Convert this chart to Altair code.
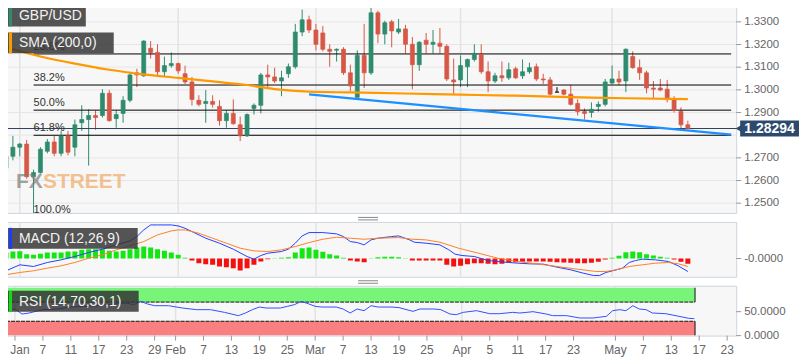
import altair as alt
import pandas as pd

FONT = "Liberation Sans"

# ---------------- data ----------------
candle_idx = list(range(-2, 98))  # trading-day index, 0 = Jan 1 2019
candle_open = [
    1.2654, 1.2707, 1.2747, 1.2761, 1.2617, 1.2635, 1.2729, 1.2770, 1.2720, 1.2797,
    1.2747, 1.2855, 1.2869, 1.2887, 1.2887, 1.2985, 1.2873, 1.2896, 1.2954, 1.3075,
    1.3062, 1.3183, 1.3165, 1.3080, 1.3107, 1.3116, 1.3071, 1.3035, 1.2954, 1.2940,
    1.2949, 1.2927, 1.2864, 1.2896, 1.2846, 1.2797, 1.2918, 1.2932, 1.3066, 1.3057,
    1.3039, 1.3071, 1.3102, 1.3255, 1.3309, 1.3264, 1.3251, 1.3179, 1.3175, 1.3179,
    1.3075, 1.2967, 1.3152, 1.3075, 1.3340, 1.3246, 1.3300, 1.3255, 1.3269, 1.3201,
    1.3111, 1.3219, 1.3201, 1.3206, 1.3192, 1.3044, 1.3044, 1.3102, 1.3134, 1.3156,
    1.3080, 1.3039, 1.3062, 1.3053, 1.3093, 1.3062, 1.3080, 1.3102, 1.3048, 1.3044,
    1.2990, 1.2999, 1.2981, 1.2940, 1.2904, 1.2900, 1.2927, 1.2936, 1.3030, 1.3048,
    1.3039, 1.3147, 1.3098, 1.3075, 1.3008, 1.3008, 1.3003, 1.2958, 1.2905, 1.2846,
]
candle_high = [
    1.2711, 1.2797, 1.2765, 1.2779, 1.2648, 1.2747, 1.2783, 1.2797, 1.2819, 1.2819,
    1.2869, 1.2932, 1.2914, 1.2909, 1.3003, 1.2999, 1.2909, 1.2972, 1.3080, 1.3093,
    1.3219, 1.3215, 1.3201, 1.3147, 1.3165, 1.3120, 1.3107, 1.3057, 1.2976, 1.2999,
    1.2976, 1.2954, 1.2909, 1.2958, 1.2882, 1.2896, 1.2940, 1.3075, 1.3111, 1.3098,
    1.3084, 1.3116, 1.3291, 1.3354, 1.3327, 1.3291, 1.3282, 1.3201, 1.3183, 1.3188,
    1.3111, 1.3174, 1.3291, 1.3381, 1.3349, 1.3305, 1.3309, 1.3313, 1.3287, 1.3233,
    1.3215, 1.3251, 1.3264, 1.3273, 1.3201, 1.3138, 1.3152, 1.3138, 1.3201, 1.3201,
    1.3125, 1.3075, 1.3125, 1.3120, 1.3102, 1.3134, 1.3120, 1.3116, 1.3071, 1.3057,
    1.3012, 1.3003, 1.3021, 1.2958, 1.2918, 1.2945, 1.2949, 1.3048, 1.3107, 1.3084,
    1.3183, 1.3170, 1.3134, 1.3084, 1.3039, 1.3048, 1.3044, 1.2972, 1.2923, 1.2864,
]
candle_low = [
    1.2639, 1.2689, 1.2707, 1.2608, 1.2442, 1.2630, 1.2720, 1.2707, 1.2707, 1.2711,
    1.2707, 1.2819, 1.2666, 1.2824, 1.2878, 1.2860, 1.2833, 1.2855, 1.2945, 1.3012,
    1.3057, 1.3138, 1.3057, 1.3057, 1.3098, 1.3071, 1.3026, 1.2931, 1.2927, 1.2855,
    1.2922, 1.2842, 1.2833, 1.2846, 1.2774, 1.2792, 1.2891, 1.2896, 1.3012, 1.3030,
    1.2972, 1.3053, 1.3093, 1.3237, 1.3251, 1.3174, 1.3170, 1.3102, 1.3125, 1.3066,
    1.2994, 1.2958, 1.3008, 1.3066, 1.3206, 1.3201, 1.3188, 1.3246, 1.3161, 1.3003,
    1.3084, 1.3161, 1.3161, 1.3161, 1.3039, 1.2981, 1.3012, 1.3012, 1.3125, 1.3071,
    1.2990, 1.3030, 1.3035, 1.3044, 1.3048, 1.3048, 1.3071, 1.3039, 1.3026, 1.2976,
    1.2990, 1.2976, 1.2931, 1.2887, 1.2869, 1.2878, 1.2904, 1.2927, 1.3026, 1.3021,
    1.2990, 1.3093, 1.3044, 1.2985, 1.2963, 1.2994, 1.2945, 1.2900, 1.2824, 1.2824,
]
candle_close = [
    1.2707, 1.2747, 1.2761, 1.2617, 1.2635, 1.2738, 1.2770, 1.2720, 1.2797, 1.2725,
    1.2846, 1.2869, 1.2887, 1.2878, 1.2985, 1.2864, 1.2891, 1.2954, 1.3066, 1.3066,
    1.3215, 1.3165, 1.3080, 1.3107, 1.3116, 1.3084, 1.3035, 1.2958, 1.2936, 1.2949,
    1.2936, 1.2864, 1.2896, 1.2851, 1.2797, 1.2891, 1.2932, 1.3066, 1.3057, 1.3039,
    1.3053, 1.3102, 1.3255, 1.3309, 1.3264, 1.3201, 1.3179, 1.3170, 1.3179, 1.3075,
    1.3017, 1.3152, 1.3075, 1.3340, 1.3246, 1.3296, 1.3260, 1.3269, 1.3201, 1.3111,
    1.3210, 1.3201, 1.3210, 1.3192, 1.3048, 1.3035, 1.3107, 1.3134, 1.3161, 1.3080,
    1.3039, 1.3062, 1.3053, 1.3089, 1.3053, 1.3080, 1.3098, 1.3048, 1.3044, 1.2981,
    1.2990, 1.2981, 1.2936, 1.2904, 1.2896, 1.2914, 1.2936, 1.3035, 1.3048, 1.3035,
    1.3179, 1.3098, 1.3075, 1.3008, 1.3003, 1.2999, 1.2958, 1.2909, 1.2846, 1.28294,
]
last_price = 1.28294
last_text = "1.28294"

sma_idx = [-2, 3, 8, 13, 18, 23, 28, 33, 37, 42, 48, 56, 64, 72, 80, 88, 97]
sma_val = [1.31876, 1.31472, 1.31157, 1.30888, 1.30685, 1.30528, 1.30371, 1.30213,
           1.30034, 1.29921, 1.29885, 1.29840, 1.29787, 1.29742, 1.29683, 1.29629, 1.29593]

trend_idx = [42, 103.3]
trend_val = [1.2980, 1.28025]

fib_high = 1.3380
fib_low = 1.2441
fib_ratio = [0.0, 0.236, 0.382, 0.5, 0.618, 1.0]
fib_text = ["0.0%", "23.6%", "38.2%", "50.0%", "61.8%", "100.0%"]
fib_start = 2

grid_prices = [1.25, 1.26, 1.27, 1.28, 1.29, 1.30, 1.31, 1.32, 1.33]
price_ticks = [1.25, 1.26, 1.27, 1.29, 1.30, 1.31, 1.32, 1.33]
price_tick_text = ["1.2500", "1.2600", "1.2700", "1.2900", "1.3000", "1.3100", "1.3200", "1.3300"]

macd_ticks = [0]
macd_tick_text = ["-0.0000"]
rsi_ticks = [50, 0]
rsi_tick_text = ["50.0000", "0.0000"]

hist_idx = list(range(-2, 98))
hist_val = [
    0.0018, 0.0021, 0.0022, 0.0013, 0.0011, 0.0014, 0.0018, 0.0018, 0.0018, 0.0021,
    0.0021, 0.0026, 0.0028, 0.0028, 0.0028, 0.0023, 0.0021, 0.0023, 0.0028, 0.0033,
    0.0036, 0.0033, 0.0028, 0.0023, 0.0018, 0.0011, 0.0002, -0.0006, -0.0014, -0.0017,
    -0.0019, -0.0024, -0.0026, -0.0029, -0.0036, -0.0029, -0.0019, -0.0009, -0.0002, 0.0001,
    0.0002, 0.0004, 0.0018, 0.0031, 0.0033, 0.0026, 0.0020, 0.0013, 0.0009, 0.0002,
    -0.0006, -0.0009, -0.0011, 0.0001, 0.0004, 0.0005, 0.0005, 0.0004, 0.0001, -0.0006,
    -0.0006, -0.0006, -0.0006, -0.0006, -0.0019, -0.0024, -0.0022, -0.0017, -0.0014, -0.0014,
    -0.0016, -0.0017, -0.0016, -0.0012, -0.0011, -0.0010, -0.0009, -0.0009, -0.0009, -0.0010,
    -0.0011, -0.0012, -0.0013, -0.0014, -0.0014, -0.0013, -0.0010, -0.0003, 0.0002, 0.0008,
    0.0019, 0.0021, 0.0019, 0.0013, 0.0009, 0.0005, 0.0002, -0.0003, -0.0010, -0.0016,
]

macd_idx = [-2, 0, 2, 4, 6, 8, 10, 12, 14, 16, 17, 18, 19, 20, 22, 23, 24, 25, 27, 29,
            31, 33, 34, 35, 36, 38, 39, 40, 41, 42, 44, 46, 47, 48, 49, 50, 51, 52, 54, 55,
            56.6, 57.3, 59, 61, 62.3, 63.2, 64.2, 66, 68, 69.4, 71, 72.3, 74, 76, 78, 80,
            81.8, 83.3, 84.2, 85.1, 86.6, 87.5, 88.5, 89.4, 90.4, 92.3, 94.2, 95.6, 97]
macd_val = [-0.0037, -0.0019, -0.0024, -0.0012, -0.0004, 0.0006, 0.0018, 0.0028, 0.0041, 0.0053,
            0.0066, 0.0086, 0.0101, 0.0101, 0.0101, 0.0098, 0.0091, 0.0081, 0.0061, 0.0046,
            0.0028, 0.0006, -0.0002, 0.0009, 0.0016, 0.0021, 0.0028, 0.0046, 0.0068, 0.0078,
            0.0078, 0.0074, 0.0066, 0.0051, 0.0048, 0.0041, 0.0056, 0.0061, 0.0066, 0.0068,
            0.0056, 0.0049, 0.0046, 0.0041, 0.0026, 0.0013, 0.0009, 0.0006, -0.0006, -0.0009,
            -0.0012, -0.0014, -0.0016, -0.0017, -0.0026, -0.0034, -0.0044, -0.0051, -0.0051, -0.0042,
            -0.0034, -0.0029, -0.0012, -0.0006, -0.0002, -0.0004, -0.0009, -0.0022, -0.0039]

signal_idx = [-2, 0, 2, 4, 6, 8, 10, 12, 14, 16, 18, 20, 22, 23, 24, 26, 28, 30, 32, 34,
              36, 38, 40, 42, 44, 46, 48, 50, 52, 55, 57, 59, 61, 63.7, 66.6, 69.4, 72.3, 75.1,
              78, 80.9, 83.7, 85.1, 86.6, 88.5, 90.4, 92.3, 94.2, 95.6, 97]
signal_val = [-0.0049, -0.0042, -0.0037, -0.0029, -0.0022, -0.0012, 0.0001, 0.0011, 0.0026, 0.0038,
              0.0051, 0.0071, 0.0083, 0.0086, 0.0086, 0.0076, 0.0061, 0.0046, 0.0031, 0.0023,
              0.0021, 0.0026, 0.0036, 0.0048, 0.0058, 0.0064, 0.0061, 0.0058, 0.0061, 0.0063,
              0.0058, 0.0056, 0.0049, 0.0031, 0.0016, 0.0001, -0.0009, -0.0016, -0.0024, -0.0032,
              -0.0039, -0.0039, -0.0034, -0.0024, -0.0019, -0.0014, -0.0012, -0.0016, -0.0024]

rsi_idx = [-2, 0, 1, 2, 4, 6, 8, 10, 12, 14, 16, 17, 18, 19, 20, 22, 24, 26, 28, 30,
           32, 33, 34, 35, 36, 38, 39, 40, 41, 42, 43, 44, 46, 47, 48, 49, 50, 51, 52, 54,
           55, 57, 58, 60, 61, 62.3, 63.2, 64.2, 66.1, 68, 69.4, 71.3, 72.3, 74.2, 76.1, 77,
           79, 80.9, 82.8, 84.7, 85.6, 86.6, 87.5, 88.5, 89.4, 90.4, 91.3, 93.2, 95.1, 96.5, 97.3]
rsi_val = [50.7, 55.6, 45.1, 47.2, 54.2, 55.6, 59.7, 61.1, 62.5, 66.0, 68.0, 64.6, 71.5, 66.0,
           62.5, 62.5, 57.6, 54.2, 54.2, 48.6, 41.7, 47.2, 54.2, 59.7, 57.6, 57.6, 61.1, 64.6,
           71.5, 66.7, 61.1, 59.7, 59.7, 55.6, 47.2, 55.6, 52.1, 62.5, 59.7, 59.7, 58.5, 50.7,
           55.6, 55.6, 54.2, 45.1, 43.8, 48.6, 52.1, 45.8, 45.8, 48.6, 47.2, 50.0, 45.1, 41.7,
           41.7, 36.8, 36.8, 40.3, 52.1, 54.2, 52.1, 62.5, 55.6, 54.2, 47.2, 45.8, 40.3, 36.1, 35.4]
rsi_end = 97.4

month_idx = [0, 23, 43, 64, 86]
tick_idx = [0, 4, 8, 12, 16, 20, 23, 27, 31, 35, 39, 43, 47, 51, 55, 59, 64, 68, 72, 76, 80,
            86, 90, 94, 98, 102]
tick_text = ["Jan", "7", "11", "17", "23", "29", "Feb", "7", "13", "19", "25", "Mar", "7", "13",
             "19", "25", "Apr", "5", "11", "17", "23", "May", "7", "13", "17", "23"]

# ---------------- styling ----------------
W = 737
H_MAIN, H_MACD, H_RSI = 213, 55, 50
GREEN, RED = "#2e8b6e", "#d65746"
XMIN, XMAX = -2, 103.29
AX_COLOR = "#666666"
TICK_COLOR = "#999999"

x_scale = alt.Scale(domain=[XMIN, XMAX], nice=False, zero=False)
price_scale = alt.Scale(domain=[1.245708, 1.339438], nice=False, zero=False)
macd_scale = alt.Scale(domain=[-0.00549, 0.01101], nice=False, zero=False)
rsi_scale = alt.Scale(domain=[0, 104.2], nice=False, zero=False)
dir_scale = alt.Scale(domain=["up", "down", "flat"], range=[GREEN, RED, "#000000"])

ONE = pd.DataFrame({"k": [0]})


def X(field):
    return alt.X(field, scale=x_scale, axis=None)


def pbox(x1, x2, y1, y2, fill, opacity=1.0):
    return alt.Chart(ONE).mark_rect(fill=fill, opacity=opacity).encode(
        x=alt.value(x1), x2=alt.value(x2), y=alt.value(y1), y2=alt.value(y2))


def ptext(txt, x, y, size, color, align="left", weight="normal", opacity=1.0):
    return alt.Chart(pd.DataFrame({"t": [txt]})).mark_text(
        align=align, baseline="middle", fontSize=size, color=color, fontWeight=weight,
        opacity=opacity, font=FONT).encode(x=alt.value(x), y=alt.value(y), text="t:N")


def prule(x1, x2, y, color, width=1.0):
    return alt.Chart(ONE).mark_rule(color=color, strokeWidth=width, clip=False).encode(
        x=alt.value(x1), x2=alt.value(x2), y=alt.value(y))


def legend(txt, top, right, accent):
    return [
        pbox(5, right, top, top + 21, "#333333", 0.83),
        pbox(8, 11, top, top + 21, accent),
        ptext(txt, 18, top + 11, 14, "#f2f2f2"),
    ]


def yaxis(values, texts, scale):
    df = pd.DataFrame({"v": values, "t": texts})
    ticks = alt.Chart(df).mark_rule(color=TICK_COLOR, strokeWidth=1).encode(
        x=alt.value(W), x2=alt.value(W + 5), y=alt.Y("v:Q", scale=scale, axis=None))
    labels = alt.Chart(df).mark_text(align="left", baseline="middle", fontSize=11.5,
                                     color=AX_COLOR, font=FONT).encode(
        x=alt.value(W + 8), y=alt.Y("v:Q", scale=scale, axis=None), text="t:N")
    return [ticks, labels]


months = alt.Chart(pd.DataFrame({"i": month_idx})).mark_rule(
    color="#e3e3e3", strokeWidth=1.5).encode(x=X("i:Q"))

# ---------------- main panel ----------------
cdf = pd.DataFrame({"i": candle_idx, "o": candle_open, "h": candle_high,
                    "l": candle_low, "c": candle_close})
cdf["d"] = ["up" if c > o else ("down" if c < o else "flat")
            for o, c in zip(candle_open, candle_close)]

grid = alt.Chart(pd.DataFrame({"p": grid_prices})).mark_rule(
    color="#e6e6e6", strokeWidth=1).encode(y=alt.Y("p:Q", scale=price_scale, axis=None))

wicks = alt.Chart(cdf).mark_rule(strokeWidth=1, clip=True).encode(
    x=X("i:Q"),
    y=alt.Y("l:Q", scale=price_scale, axis=None),
    y2="h:Q",
    color=alt.Color("d:N", scale=dir_scale, legend=None),
)
bodies = alt.Chart(cdf).mark_bar(size=4, strokeWidth=1, strokeOpacity=0.7, clip=True).encode(
    x=X("i:Q"),
    y=alt.Y("o:Q", scale=price_scale, axis=None),
    y2="c:Q",
    color=alt.Color("d:N", scale=dir_scale, legend=None),
    stroke=alt.Stroke("d:N", scale=dir_scale, legend=None),
)

fdf = pd.DataFrame({
    "level": [fib_high - r * (fib_high - fib_low) for r in fib_ratio],
    "label": fib_text,
    "x1": [fib_start] * len(fib_ratio),
    "x2": [XMAX] * len(fib_ratio),
})
fib_lines = alt.Chart(fdf).mark_rule(color="#000000", strokeWidth=1, clip=True).encode(
    x=X("x1:Q"), x2="x2:Q",
    y=alt.Y("level:Q", scale=price_scale, axis=None))
fib_labels = alt.Chart(fdf).mark_text(align="left", baseline="bottom", dy=-2, fontSize=11,
                                      color="#333333", font=FONT, clip=True).encode(
    x=X("x1:Q"),
    y=alt.Y("level:Q", scale=price_scale, axis=None), text="label:N")

price_line = alt.Chart(pd.DataFrame({"p": [last_price]})).mark_rule(
    color="#2e3f5c", strokeWidth=1).encode(y=alt.Y("p:Q", scale=price_scale, axis=None))

sma = alt.Chart(pd.DataFrame({"i": sma_idx, "v": sma_val})).mark_line(
    color="#ff9900", strokeWidth=2.2, interpolate="monotone", clip=True).encode(
    x=X("i:Q"), y=alt.Y("v:Q", scale=price_scale, axis=None))
trend = alt.Chart(pd.DataFrame({"i": trend_idx, "v": trend_val})).mark_line(
    color="#1e8fff", strokeWidth=2.2, clip=True).encode(
    x=X("i:Q"), y=alt.Y("v:Q", scale=price_scale, axis=None))

watermark = [
    ptext("FX", 15, 182, 21, "#7d7d7d", weight="bold", opacity=0.7),
    ptext("STREET", 42, 182, 21, "#eea55a", weight="bold", opacity=0.65),
]

tag_df = pd.DataFrame({"p": [last_price], "t": [last_text]})
tag_arrow = alt.Chart(tag_df).mark_point(
    shape="triangle-left", filled=True, size=70, color="#2c4a6e", opacity=1).encode(
    x=alt.value(740), y=alt.Y("p:Q", scale=price_scale, axis=None))
tag_box = alt.Chart(tag_df).mark_point(
    shape="M-1,-0.27L1,-0.27L1,0.27L-1,0.27Z", filled=True, size=3481, color="#2c4a6e",
    opacity=1).encode(x=alt.value(770.5), y=alt.Y("p:Q", scale=price_scale, axis=None))
tag_text = alt.Chart(tag_df).mark_text(
    align="center", baseline="middle", fontSize=14, fontWeight="bold", color="#ffffff",
    font=FONT).encode(x=alt.value(770.5), y=alt.Y("p:Q", scale=price_scale, axis=None),
                      text="t:N")

main = alt.layer(
    grid, months, wicks, fib_lines, price_line, bodies, sma, trend, fib_labels,
    *watermark,
    *legend("GBP/USD", 5, 85, GREEN),
    *legend("SMA (200,0)", 32, 113, "#ff9900"),
    *yaxis(price_ticks, price_tick_text, price_scale),
    tag_arrow, tag_box, tag_text,
).properties(width=W, height=H_MAIN)

# ---------------- MACD panel ----------------
hdf = pd.DataFrame({"i": hist_idx, "v": hist_val})
hdf["s"] = ["pos" if v >= 0 else "neg" for v in hist_val]
hist = alt.Chart(hdf).mark_bar(size=5, clip=True).encode(
    x=X("i:Q"),
    y=alt.Y("v:Q", scale=macd_scale, axis=None),
    color=alt.Color("s:N", scale=alt.Scale(domain=["pos", "neg"], range=["#14e614", "#f51010"]),
                    legend=None),
)
macd_line = alt.Chart(pd.DataFrame({"i": macd_idx, "v": macd_val})).mark_line(
    color="#2240ff", strokeWidth=1, clip=True).encode(
    x=X("i:Q"), y=alt.Y("v:Q", scale=macd_scale, axis=None))
signal_line = alt.Chart(pd.DataFrame({"i": signal_idx, "v": signal_val})).mark_line(
    color="#ff7f27", strokeWidth=1, clip=True).encode(
    x=X("i:Q"), y=alt.Y("v:Q", scale=macd_scale, axis=None))

macd = alt.layer(
    months, hist, macd_line, signal_line,
    *legend("MACD (12,26,9)", 6, 137, "#1a3cff"),
    *yaxis(macd_ticks, macd_tick_text, macd_scale),
    prule(358, 378, -4.5, "#888888"), prule(358, 378, -2, "#888888"),
).properties(width=W, height=H_MACD)

# ---------------- RSI panel ----------------
bdf = pd.DataFrame({"x1": [XMIN, XMIN], "x2": [rsi_end, rsi_end], "y1": [70, 0], "y2": [100, 30],
                    "k": ["ob", "os"]})
bands = alt.Chart(bdf).mark_rect(clip=True).encode(
    x=X("x1:Q"), x2="x2:Q",
    y=alt.Y("y1:Q", scale=rsi_scale, axis=None), y2="y2:Q",
    color=alt.Color("k:N", scale=alt.Scale(domain=["ob", "os"], range=["#78f478", "#f88080"]),
                    legend=None),
)
edge_df = pd.DataFrame({"x1": [XMIN, XMIN], "x2": [rsi_end, rsi_end], "y": [70, 30]})
band_edges_h = alt.Chart(edge_df).mark_rule(color="#111111", strokeWidth=1,
                                            strokeDash=[4, 1], clip=True).encode(
    x=X("x1:Q"), x2="x2:Q", y=alt.Y("y:Q", scale=rsi_scale, axis=None))
vedge_df = pd.DataFrame({"x": [rsi_end, rsi_end], "y1": [70, 0], "y2": [100, 30]})
band_edges_v = alt.Chart(vedge_df).mark_rule(color="#111111", strokeWidth=1, clip=True).encode(
    x=X("x:Q"), y=alt.Y("y1:Q", scale=rsi_scale, axis=None), y2="y2:Q")
rsi_line = alt.Chart(pd.DataFrame({"i": rsi_idx, "v": rsi_val})).mark_line(
    color="#3050ff", strokeWidth=1, clip=True).encode(
    x=X("i:Q"), y=alt.Y("v:Q", scale=rsi_scale, axis=None))

xdf = pd.DataFrame({"i": tick_idx, "t": tick_text})
x_ticks = alt.Chart(xdf).mark_rule(color=TICK_COLOR, strokeWidth=1).encode(
    x=X("i:Q"), y=alt.value(H_RSI), y2=alt.value(H_RSI + 5))
x_labels = alt.Chart(xdf).transform_filter("datum.i > 0").mark_text(
    align="center", baseline="middle", fontSize=12, color=AX_COLOR, font=FONT).encode(
    x=X("i:Q"), y=alt.value(H_RSI + 14), text="t:N")
x_label_first = alt.Chart(xdf).transform_filter("datum.i <= 0").mark_text(
    align="center", baseline="middle", fontSize=12, color=AX_COLOR, font=FONT, dx=5).encode(
    x=X("i:Q"), y=alt.value(H_RSI + 14), text="t:N")

rsi = alt.layer(
    months, bands, band_edges_h, band_edges_v, rsi_line,
    *legend("RSI (14,70,30,1)", 5, 138, "#11dd11"),
    *yaxis(rsi_ticks, rsi_tick_text, rsi_scale),
    x_ticks, x_labels, x_label_first,
    prule(358, 378, -5, "#888888"), prule(358, 378, -2.5, "#888888"),
).properties(width=W, height=H_RSI)

chart = alt.vconcat(main, macd, rsi, spacing=9, bounds="flush").resolve_scale(
    color="independent", stroke="independent"
).properties(
    padding={"left": -8, "top": -10, "right": 0, "bottom": 0}
).configure(background="#ffffff", font=FONT).configure_view(
    stroke="#cfd4df", strokeWidth=1, fill="#f7f7f7")

chart.save("out.html", embed_options={"renderer": "svg", "actions": False})
